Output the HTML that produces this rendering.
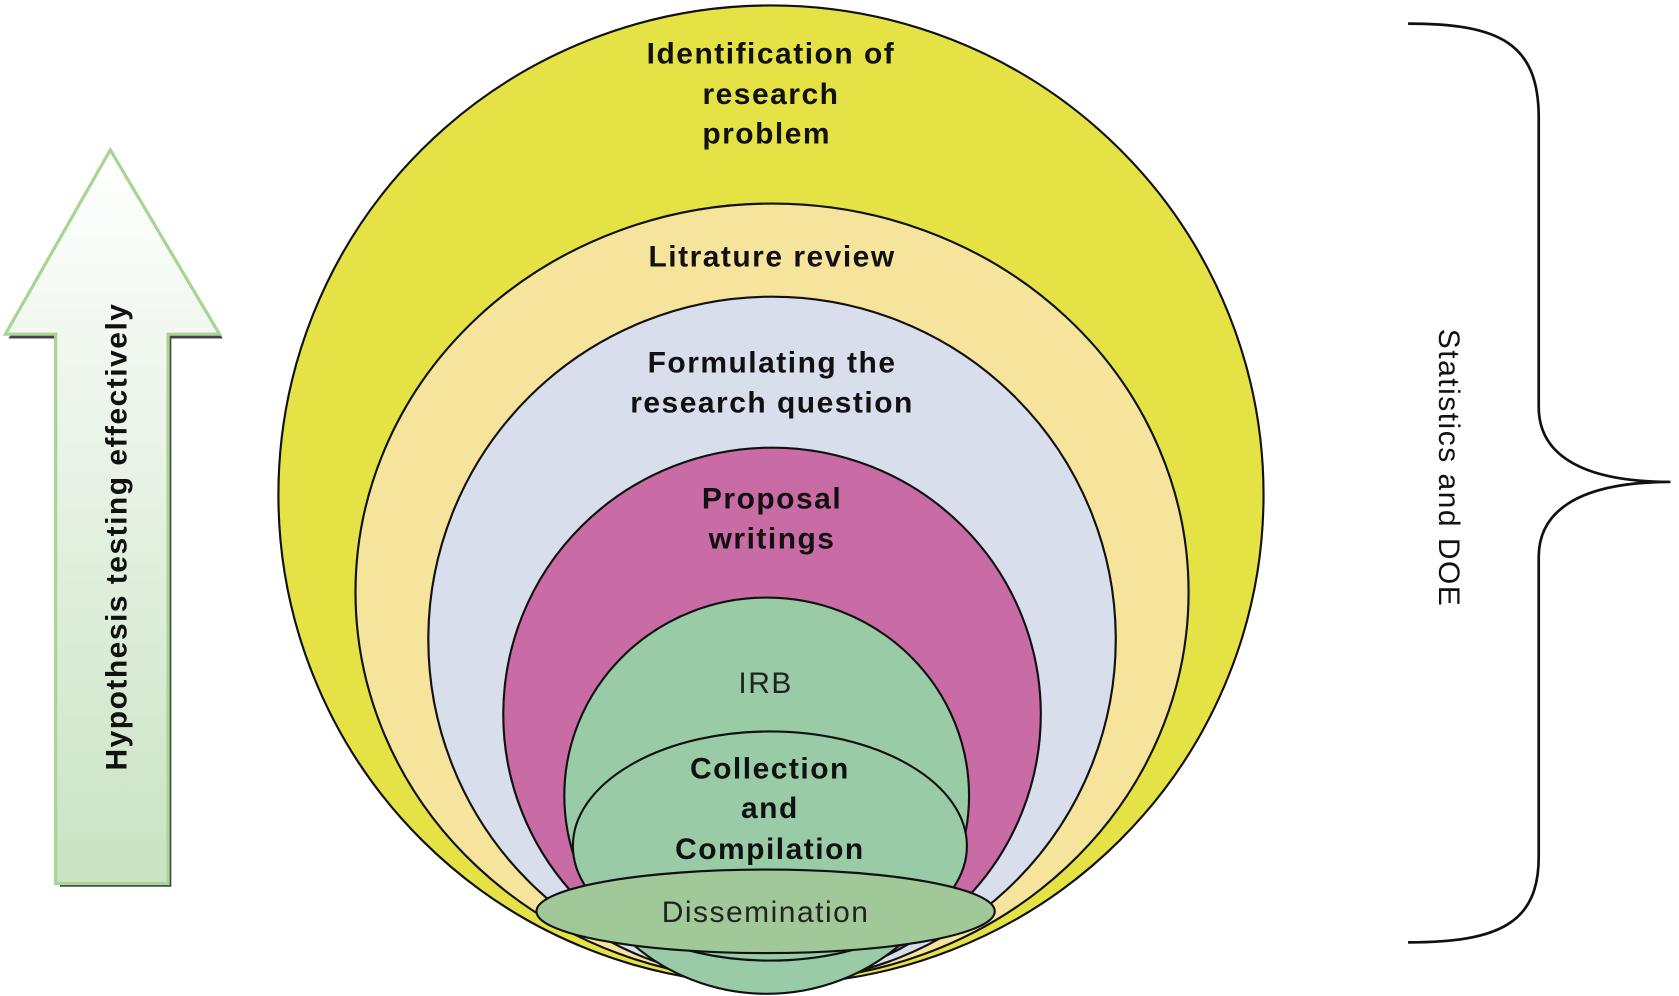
<!DOCTYPE html>
<html><head><style>html,body{margin:0;padding:0;background:#fff;}svg{display:block}text{letter-spacing:1.4px}</style></head>
<body>
<svg width="1679" height="996" viewBox="0 0 1568 930" xmlns="http://www.w3.org/2000/svg" font-family="Liberation Sans, Arial, sans-serif">
<defs>
<linearGradient id="ag" x1="0" y1="0" x2="0" y2="1">
<stop offset="0" stop-color="#ffffff"/><stop offset="1" stop-color="#c9e3c3"/>
</linearGradient>
</defs>
<path d="M106,143 L208,316 L160,316 L160,828 L56,828 L56,316 L8,316 Z" fill="#444"/>
<path d="M103,140 L205,312 L157,312 L157,825 L52,825 L52,312 L5,312 Z" fill="url(#ag)" stroke="#a8d593" stroke-width="3"/>
<text transform="translate(118,501) rotate(-90)" text-anchor="middle" font-weight="bold" font-size="28" fill="#111">Hypothesis testing effectively</text>

<g stroke="#111" stroke-width="2">
<ellipse cx="720" cy="462" rx="460" ry="457" fill="#e4e245"/>
<ellipse cx="721" cy="553" rx="389" ry="363" fill="#f7e49c"/>
<ellipse cx="721" cy="597" rx="321" ry="320" fill="#d8deeb"/>
<ellipse cx="721" cy="667" rx="251" ry="249" fill="#c96ba5"/>
<ellipse cx="716" cy="743" rx="189" ry="185" fill="#98cba6"/>
<ellipse cx="719" cy="790" rx="184" ry="107" fill="#98cba6"/>
<ellipse cx="715" cy="851" rx="214" ry="39" fill="#a0c898"/>
</g>
<g font-weight="bold" font-size="28" fill="#111" text-anchor="middle">
<text x="720" y="59">Identification of</text>
<text x="720" y="97">research</text>
<text x="716" y="134">problem</text>
<text x="721" y="249">Litrature review</text>
<text x="721" y="348">Formulating  the</text>
<text x="721" y="385">research question</text>
<text x="721" y="475">Proposal</text>
<text x="721" y="512">writings</text>
<text x="719" y="727">Collection</text>
<text x="719" y="764">and</text>
<text x="719" y="802">Compilation</text>
</g>
<g font-size="28" fill="#222" text-anchor="middle">
<text x="715" y="647">IRB</text>
<text x="715" y="861">Dissemination</text>
</g>
<path d="M1315,22 C1400,22 1437,40 1437,110 L1437,380 C1437,420 1470,450 1560,450 C1470,450 1437,480 1437,520 L1437,800 C1437,862 1400,880 1315,880" fill="none" stroke="#111" stroke-width="2.5"/>
<text transform="translate(1344,437) rotate(90)" text-anchor="middle" font-size="28" fill="#111">Statistics and DOE</text>
</svg>
</body></html>
